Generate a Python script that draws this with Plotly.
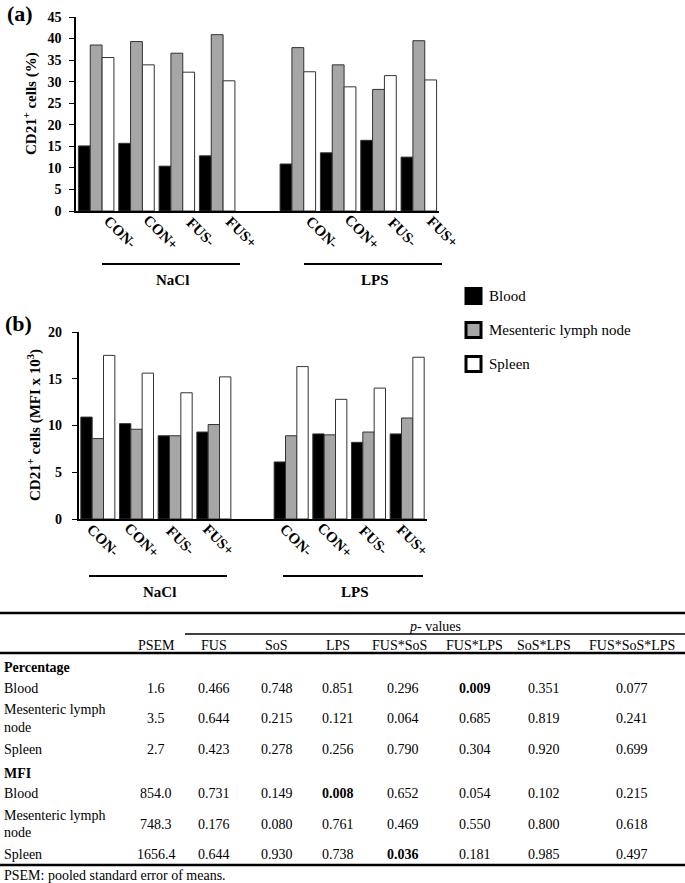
import plotly.graph_objects as go

W, H = 685, 883
SERIF = "Liberation Serif, Times New Roman, serif"

# ---------------- data ----------------
treatments = ["CON-", "CON+", "FUS-", "FUS+"]
groups = ["NaCl", "LPS"]
series_names = ["Blood", "Mesenteric lymph node", "Spleen"]
series_colors = ["#000000", "#a6a6a6", "#ffffff"]

# panel (a): CD21+ cells (%), order NaCl CON-,CON+,FUS-,FUS+, LPS CON-,CON+,FUS-,FUS+
pct_blood = [15.1, 15.7, 10.4, 12.8, 10.9, 13.5, 16.4, 12.5]
pct_mln = [38.5, 39.3, 36.6, 40.9, 37.9, 33.9, 28.2, 39.5]
pct_spleen = [35.6, 33.9, 32.2, 30.2, 32.3, 28.8, 31.4, 30.4]

# panel (b): CD21+ cells (MFI x 10^3)
mfi_blood = [10.9, 10.2, 8.9, 9.3, 6.1, 9.1, 8.2, 9.1]
mfi_mln = [8.6, 9.6, 8.9, 10.1, 8.9, 9.0, 9.3, 10.8]
mfi_spleen = [17.5, 15.6, 13.5, 15.2, 16.3, 12.8, 14.0, 17.3]

# table
table_cols = ["PSEM", "FUS", "SoS", "LPS", "FUS*SoS", "FUS*LPS", "SoS*LPS", "FUS*SoS*LPS"]
pct_rows = ["Blood", "Mesenteric lymph node", "Spleen"]
pct_table = [
    ["1.6", "0.466", "0.748", "0.851", "0.296", "0.009", "0.351", "0.077"],
    ["3.5", "0.644", "0.215", "0.121", "0.064", "0.685", "0.819", "0.241"],
    ["2.7", "0.423", "0.278", "0.256", "0.790", "0.304", "0.920", "0.699"],
]
mfi_table = [
    ["854.0", "0.731", "0.149", "0.008", "0.652", "0.054", "0.102", "0.215"],
    ["748.3", "0.176", "0.080", "0.761", "0.469", "0.550", "0.800", "0.618"],
    ["1656.4", "0.644", "0.930", "0.738", "0.036", "0.181", "0.985", "0.497"],
]
pct_bold = [(0, 5)]
mfi_bold = [(0, 3), (2, 4)]


def px(x):
    return x / W


def py(y):
    return 1 - y / H


positions = [g * (len(treatments) + 1) + i for g in range(len(groups)) for i in range(len(treatments))]

fig = go.Figure()
panels = [
    ("x", "y", [pct_blood, pct_mln, pct_spleen]),
    ("x2", "y2", [mfi_blood, mfi_mln, mfi_spleen]),
]
for xa, ya, vals in panels:
    for name, color, v in zip(series_names, series_colors, vals):
        fig.add_trace(go.Bar(
            x=positions, y=v, name=name, xaxis=xa, yaxis=ya,
            marker=dict(color=color, line=dict(color="#333333", width=1)),
            showlegend=False, offsetgroup=name,
        ))

axis_common = dict(showgrid=False, zeroline=False, showline=True, linecolor="black", automargin=False)
yfont = dict(family=SERIF, size=14, color="black", weight="bold")

fig.update_layout(
    template="none",
    width=W, height=H, margin=dict(l=0, r=0, t=0, b=0, pad=0, autoexpand=False),
    paper_bgcolor="white", plot_bgcolor="white",
    barmode="group", bargap=0.12, bargroupgap=0,
    xaxis=dict(domain=[px(76), px(439)], range=[-0.5, 8.5], anchor="y",
               showticklabels=False, ticks="", linewidth=2, **axis_common),
    yaxis=dict(domain=[py(211), py(17)], range=[0, 45], dtick=5, anchor="x",
               ticks="outside", ticklen=5, tickcolor="black", tickwidth=1,
               linewidth=1.5, tickfont=yfont, ticklabelstandoff=5, **axis_common),
    xaxis2=dict(domain=[px(78.5), px(426.5)], range=[-0.5, 8.5], anchor="y2",
                showticklabels=False, ticks="", linewidth=2, **axis_common),
    yaxis2=dict(domain=[py(519), py(332)], range=[0, 20], dtick=5, anchor="x2",
                ticks="outside", ticklen=5, tickcolor="black", tickwidth=1,
                linewidth=1.5, tickfont=yfont, ticklabelstandoff=7, **axis_common),
)

ann = []
shapes = []


def txt(x, y, text, size=14, bold=False, anchor="center", angle=0, xref="paper", yref="paper", xshift=0):
    ann.append(dict(
        x=x, y=y, xref=xref, yref=yref, text=text, showarrow=False,
        xanchor=anchor, yanchor="middle", textangle=angle, xshift=xshift,
        font=dict(family=SERIF, size=size, color="black", weight="bold" if bold else "normal"),
    ))


def hline(x0, x1, y, w=2):
    shapes.append(dict(type="line", xref="paper", yref="paper",
                       x0=px(x0), x1=px(x1), y0=py(y), y1=py(y),
                       line=dict(color="black", width=w)))


# panel labels
txt(px(20), py(14), "(a)", size=22, bold=True)
txt(px(18), py(323), "(b)", size=22, bold=True)

# y titles
txt(px(30), py(104), "CD21<sup>+</sup> cells (%)", size=15, bold=True, angle=-90)
txt(px(34), py(425), "CD21<sup>+</sup> cells (MFI x 10<sup>3</sup>)", size=15, bold=True, angle=-90)

# category labels
for p, t in zip(positions, treatments * len(groups)):
    ann.append(dict(x=p, y=py(232), xref="x", yref="paper", text=t, showarrow=False,
                    xanchor="center", yanchor="middle", textangle=45, xshift=24,
                    font=dict(family=SERIF, size=15, color="black", weight="bold")))
    ann.append(dict(x=p, y=py(540), xref="x2", yref="paper", text=t, showarrow=False,
                    xanchor="center", yanchor="middle", textangle=45, xshift=5,
                    font=dict(family=SERIF, size=15, color="black", weight="bold")))

# group lines and names
hline(102, 240, 264)
hline(304, 442, 264)
txt(px(172), py(280), groups[0], size=15, bold=True)
txt(px(375), py(280), groups[1], size=15, bold=True)
hline(89, 227, 576)
hline(283, 423, 576)
txt(px(159), py(592), groups[0], size=15, bold=True)
txt(px(355), py(592), groups[1], size=15, bold=True)

# legend
leg_y = [296, 330, 364]
for name, color, yc in zip(series_names, series_colors, leg_y):
    shapes.append(dict(type="rect", xref="paper", yref="paper",
                       x0=px(466), x1=px(481), y0=py(yc + 7.5), y1=py(yc - 7.5),
                       fillcolor=color, line=dict(color="black", width=3)))
    txt(px(487), py(yc), name, size=15, anchor="left")

# table
hline(0, 685, 613, 2.5)
txt(px(435), py(626), "<i>p</i>- values", size=14)
hline(185, 685, 634, 1.5)
col_x = [156, 214, 276.5, 338, 400, 474.5, 544, 632]
for c, cx in zip(table_cols, col_x):
    txt(px(cx), py(645), c, size=14)
hline(0, 685, 653, 2.5)

txt(px(2), py(667), "Percentage", size=14, bold=True, anchor="left")
txt(px(2), py(773), "MFI", size=14, bold=True, anchor="left")

row_y_pct = [688, 718.5, 749.5]
row_y_mfi = [793.5, 824, 854.5]


def draw_rows(rows_y, table, bolds):
    for r, (name, ry) in enumerate(zip(pct_rows, rows_y)):
        if name == "Mesenteric lymph node":
            txt(px(2), py(ry - 8.8), "Mesenteric lymph", size=14, anchor="left")
            txt(px(2), py(ry + 8.8), "node", size=14, anchor="left")
        else:
            txt(px(2), py(ry), name, size=14, anchor="left")
        for c, (val, cx) in enumerate(zip(table[r], col_x)):
            if c == 4:
                cx = 403
            txt(px(cx), py(ry), val, size=14, bold=(r, c) in bolds)


draw_rows(row_y_pct, pct_table, pct_bold)
draw_rows(row_y_mfi, mfi_table, mfi_bold)
hline(0, 685, 865, 2.5)
txt(px(2), py(875), "PSEM: pooled standard error of means.", size=14, anchor="left")

fig.update_layout(annotations=ann, shapes=shapes)
fig.write_html(
    "out.html",
    config={"displayModeBar": False},
    post_script="document.body.style.margin='0';document.body.style.padding='0';document.body.style.overflow='hidden';",
)
